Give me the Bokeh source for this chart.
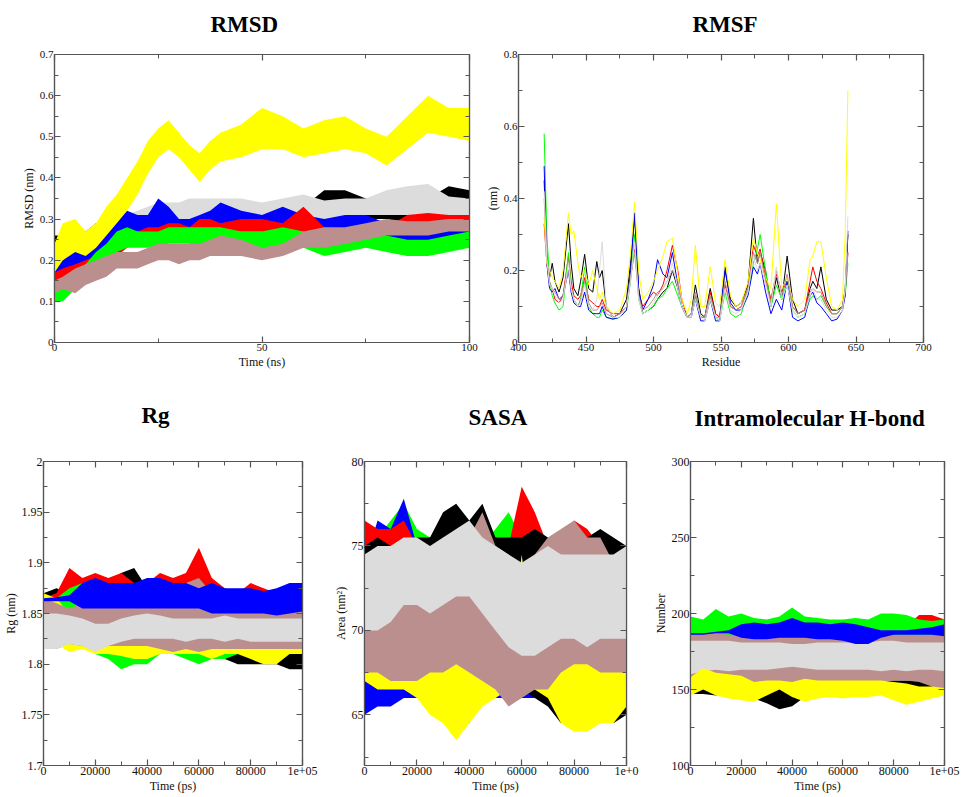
from bokeh.plotting import figure
from bokeh.layouts import row, column
from bokeh.models import FixedTicker, LinearAxis, Title, CustomJSTickFormatter, Range1d
from bokeh.embed import file_html
from bokeh.resources import INLINE

BLACK = "#000000"; RED = "#ff0000"; GREEN = "#00ff00"; BLUE = "#0000ff"
YELLOW = "#ffff00"; BROWN = "#bc8f8f"; GREY = "#dcdcdc"
AXC = "#555555"
SERIF = "Liberation Serif"

# ---------------- RMSD (ns, nm) : band envelopes
rmsd_t = [0, 2, 5, 7.5, 10, 12.5, 15, 17.5, 20, 22.5, 25, 27.5, 30, 32.5, 35, 37.5, 40,
          45, 50, 55, 60, 65, 70, 75, 80, 85, 90, 95, 100]
rmsd_black_lo = [.19, .21, .22, .23, .25, .26, .27, .27, .27, .27, .27, .27, .27, .27, .27, .27, .27, .28, .28, .28, .29, .30, .31, .30, .30, .29, .30, .32, .32]
rmsd_black_hi = [.26, .26, .28, .27, .29, .30, .30, .30, .30, .31, .31, .31, .31, .31, .31, .31, .31, .31, .31, .32, .33, .37, .37, .35, .34, .33, .35, .38, .37]
rmsd_grey_lo = [.15, .17, .18, .20, .22, .23, .24, .25, .26, .27, .28, .29, .29, .30, .30, .30, .30, .30, .29, .29, .30, .30, .30, .31, .31, .31, .31, .31, .30]
rmsd_grey_hi = [.22, .24, .26, .27, .29, .30, .30, .31, .32, .33, .34, .34, .34, .35, .35, .35, .35, .35, .34, .35, .36, .345, .35, .35, .37, .38, .385, .355, .35]
rmsd_blue_lo = [.15, .15, .17, .19, .20, .21, .23, .26, .27, .27, .27, .26, .25, .25, .25, .26, .27, .27, .27, .27, .27, .26, .27, .27, .23, .22, .22, .23, .23]
rmsd_blue_hi = [.20, .20, .23, .24, .25, .27, .30, .32, .31, .31, .35, .33, .30, .30, .31, .32, .34, .32, .31, .33, .31, .30, .31, .31, .29, .28, .27, .28, .28]
rmsd_red_lo = [.14, .15, .16, .17, .18, .19, .21, .23, .24, .26, .27, .27, .27, .27, .27, .27, .27, .27, .27, .26, .27, .27, .27, .27, .27, .28, .28, .28, .28]
rmsd_red_hi = [.17, .18, .19, .20, .21, .22, .24, .26, .27, .28, .28, .29, .29, .28, .30, .30, .29, .30, .30, .29, .33, .28, .275, .28, .28, .31, .315, .31, .31]
rmsd_green_lo = [.10, .10, .13, .15, .17, .19, .22, .23, .23, .23, .23, .24, .24, .24, .23, .23, .23, .23, .22, .23, .23, .21, .22, .23, .22, .21, .21, .22, .23]
rmsd_green_hi = [.14, .14, .17, .19, .22, .24, .27, .28, .27, .27, .27, .28, .28, .28, .28, .28, .28, .27, .27, .28, .27, .25, .25, .27, .26, .25, .25, .26, .27]
rmsd_brown_lo = [.12, .13, .12, .14, .15, .16, .18, .18, .18, .19, .20, .20, .19, .20, .20, .21, .21, .21, .20, .21, .23, .23, .24, .25, .26, .26, .26, .27, .27]
rmsd_brown_hi = [.15, .16, .18, .19, .20, .21, .22, .22, .22, .23, .24, .24, .24, .24, .24, .25, .26, .25, .23, .24, .27, .28, .28, .29, .30, .295, .295, .30, .30]
rmsd_yellow_lo = [.17, .20, .22, .21, .23, .26, .29, .32, .36, .41, .45, .47, .45, .42, .39, .42, .44, .45, .47, .47, .45, .46, .47, .46, .43, .47, .51, .50, .49]
rmsd_yellow_hi = [.24, .29, .30, .27, .29, .33, .36, .40, .44, .49, .52, .54, .51, .48, .46, .49, .51, .53, .57, .55, .52, .54, .55, .52, .50, .55, .60, .57, .57]

# ---------------- RMSF (residue, nm)
rmsf_res = [419, 421, 423, 425, 427, 430, 433, 437, 439, 441, 444, 446, 449, 452, 455, 458, 460, 462, 465, 470,
            475, 480, 483, 486, 489, 492, 496, 500, 503, 507, 510, 514, 518, 521, 525, 528, 531, 535, 538, 542,
            546, 549, 553, 557, 561, 565, 570, 574, 577, 579, 583, 587, 591, 595, 599, 603, 607, 612, 616, 618,
            621, 624, 628, 632, 636, 640, 642, 644]
rmsf_black = [.45, .25, .18, .22, .17, .14, .18, .33, .22, .15, .13, .17, .245, .15, .14, .225, .18, .20, .10, .07,
              .08, .12, .22, .35, .15, .08, .09, .10, .12, .14, .15, .20, .15, .10, .07, .08, .16, .08, .07, .15,
              .08, .07, .20, .12, .10, .11, .16, .345, .22, .25, .20, .10, .18, .12, .24, .12, .08, .09, .15, .17,
              .15, .21, .12, .09, .09, .10, .15, .30]
rmsf_red = [.33, .22, .16, .15, .12, .11, .13, .24, .17, .13, .12, .13, .18, .12, .11, .10, .10, .12, .09, .08,
            .08, .10, .18, .26, .14, .10, .12, .14, .13, .16, .20, .27, .20, .12, .07, .08, .13, .07, .07, .14,
            .08, .07, .16, .10, .09, .10, .15, .27, .24, .26, .18, .12, .19, .14, .17, .10, .08, .09, .17, .21,
            .17, .15, .11, .08, .08, .10, .14, .25]
rmsf_green = [.58, .30, .17, .13, .11, .09, .10, .25, .15, .12, .10, .12, .21, .10, .08, .07, .07, .09, .07, .065,
              .07, .09, .17, .30, .12, .08, .09, .10, .12, .13, .15, .17, .13, .10, .07, .08, .13, .07, .07, .13,
              .07, .06, .14, .08, .07, .08, .14, .22, .26, .30, .20, .10, .16, .12, .17, .09, .07, .08, .12, .13,
              .12, .13, .10, .08, .08, .10, .13, .22]
rmsf_blue = [.49, .22, .15, .14, .15, .12, .13, .20, .14, .11, .10, .10, .14, .09, .08, .08, .08, .10, .07, .065,
             .07, .09, .20, .36, .15, .09, .12, .16, .23, .19, .18, .25, .16, .10, .07, .07, .12, .06, .06, .12,
             .06, .06, .21, .11, .09, .09, .13, .21, .19, .22, .14, .08, .12, .09, .17, .07, .06, .07, .13, .14,
             .11, .10, .08, .06, .065, .09, .13, .31]
rmsf_yellow = [.35, .22, .20, .18, .17, .15, .20, .36, .30, .31, .22, .18, .20, .16, .20, .15, .12, .14, .10, .08,
               .09, .15, .25, .39, .20, .12, .14, .17, .20, .24, .28, .29, .19, .12, .08, .12, .27, .10, .10, .21,
               .11, .10, .23, .13, .10, .11, .17, .29, .25, .23, .18, .15, .385, .15, .18, .12, .10, .12, .23, .24,
               .28, .28, .18, .10, .09, .12, .30, .70]
rmsf_brown = [.40, .24, .17, .15, .14, .12, .13, .20, .15, .12, .10, .12, .17, .11, .09, .09, .10, .11, .08, .07,
              .08, .10, .18, .25, .13, .09, .10, .12, .14, .15, .17, .20, .17, .10, .07, .08, .14, .07, .07, .13,
              .07, .07, .17, .10, .09, .10, .15, .25, .22, .25, .17, .11, .20, .13, .19, .10, .08, .09, .14, .15,
              .14, .14, .10, .08, .08, .10, .14, .25]
rmsf_grey = [.42, .23, .16, .15, .13, .11, .12, .22, .15, .12, .10, .11, .16, .10, .09, .12, .20, .28, .10, .07,
             .07, .10, .17, .28, .12, .08, .09, .11, .13, .15, .17, .22, .15, .10, .07, .07, .12, .07, .06, .12,
             .07, .06, .15, .09, .08, .09, .14, .24, .20, .22, .16, .10, .21, .12, .16, .09, .07, .08, .13, .15,
             .12, .12, .09, .07, .07, .09, .15, .35]

# ---------------- common time grid for Rg / SASA / H-bond (ps)
time_ps = [0, 5000, 10000, 15000, 20000, 25000, 30000, 35000, 40000, 45000, 50000,
           55000, 60000, 65000, 70000, 75000, 80000, 85000, 90000, 95000, 100000]

# Rg (nm)
rg_black_lo = [1.845, 1.85, 1.85, 1.85, 1.855, 1.855, 1.86, 1.86, 1.85, 1.84, 1.83, 1.82, 1.82, 1.81, 1.805, 1.80, 1.80, 1.80, 1.80, 1.795, 1.795]
rg_black_hi = [1.87, 1.875, 1.87, 1.87, 1.875, 1.88, 1.89, 1.895, 1.875, 1.86, 1.85, 1.84, 1.84, 1.83, 1.825, 1.82, 1.82, 1.82, 1.815, 1.815, 1.815]
rg_red_lo = [1.855, 1.855, 1.86, 1.86, 1.86, 1.86, 1.86, 1.86, 1.86, 1.86, 1.86, 1.865, 1.87, 1.86, 1.86, 1.86, 1.86, 1.86, 1.855, 1.855, 1.855]
rg_red_hi = [1.865, 1.87, 1.895, 1.885, 1.89, 1.885, 1.89, 1.88, 1.88, 1.89, 1.885, 1.89, 1.915, 1.885, 1.875, 1.87, 1.88, 1.875, 1.87, 1.87, 1.87]
rg_green_lo = [1.82, 1.815, 1.82, 1.82, 1.81, 1.805, 1.795, 1.80, 1.80, 1.81, 1.81, 1.805, 1.80, 1.805, 1.805, 1.81, 1.81, 1.81, 1.81, 1.81, 1.81]
rg_green_hi = [1.86, 1.865, 1.875, 1.88, 1.86, 1.85, 1.84, 1.84, 1.84, 1.84, 1.84, 1.84, 1.84, 1.84, 1.84, 1.84, 1.84, 1.84, 1.84, 1.84, 1.84]
rg_yellow_lo = [1.83, 1.82, 1.812, 1.815, 1.81, 1.81, 1.808, 1.805, 1.805, 1.81, 1.81, 1.81, 1.81, 1.805, 1.81, 1.81, 1.805, 1.80, 1.80, 1.81, 1.81]
rg_yellow_hi = [1.87, 1.865, 1.85, 1.85, 1.865, 1.86, 1.85, 1.85, 1.855, 1.86, 1.855, 1.85, 1.85, 1.85, 1.85, 1.85, 1.85, 1.85, 1.85, 1.85, 1.845]
rg_brown_lo = [1.825, 1.825, 1.82, 1.818, 1.815, 1.818, 1.818, 1.818, 1.818, 1.815, 1.812, 1.815, 1.812, 1.815, 1.815, 1.815, 1.815, 1.815, 1.815, 1.815, 1.815]
rg_brown_hi = [1.865, 1.86, 1.855, 1.86, 1.865, 1.87, 1.868, 1.86, 1.86, 1.87, 1.875, 1.88, 1.885, 1.87, 1.86, 1.86, 1.855, 1.86, 1.855, 1.855, 1.855]
rg_grey_lo = [1.815, 1.815, 1.82, 1.818, 1.812, 1.818, 1.822, 1.825, 1.825, 1.825, 1.825, 1.822, 1.825, 1.825, 1.822, 1.825, 1.822, 1.822, 1.822, 1.822, 1.822]
rg_grey_hi = [1.85, 1.85, 1.848, 1.845, 1.84, 1.84, 1.845, 1.848, 1.85, 1.848, 1.845, 1.845, 1.845, 1.845, 1.848, 1.845, 1.845, 1.845, 1.845, 1.845, 1.845]
rg_blue_lo = [1.862, 1.862, 1.862, 1.855, 1.855, 1.855, 1.855, 1.855, 1.855, 1.855, 1.855, 1.855, 1.855, 1.85, 1.85, 1.85, 1.85, 1.85, 1.848, 1.85, 1.852]
rg_blue_hi = [1.865, 1.866, 1.868, 1.88, 1.885, 1.88, 1.88, 1.88, 1.885, 1.885, 1.88, 1.88, 1.875, 1.88, 1.875, 1.875, 1.875, 1.872, 1.875, 1.88, 1.88]

# SASA (nm^2)
sasa_green_lo = [66.5, 66, 66, 66.5, 67, 67, 67, 67, 67, 67, 67, 66.5, 66, 66.5, 66, 66.5, 67, 67, 67, 67, 67]
sasa_green_hi = [75, 75.5, 76.5, 77.5, 76, 75.5, 75, 75, 75, 75, 76, 77, 75.5, 75, 75, 75, 75, 75, 75, 74.5, 75]
sasa_blue_lo = [65, 65.5, 65.5, 66, 66, 66, 65, 64, 64.5, 66, 66, 66, 66, 66, 66, 66, 66, 66, 66, 66, 66]
sasa_blue_hi = [74, 76.5, 76, 77.8, 75, 75.5, 75, 75, 75, 75, 74.5, 74.5, 74.5, 74.5, 74.5, 74.5, 74.5, 74.5, 74.5, 74.5, 74.5]
sasa_red_lo = [67, 67, 67, 67, 67, 67, 67, 67, 67, 67, 67, 67, 67, 67, 67, 67, 67, 67, 67, 67, 67]
sasa_red_hi = [76.5, 76, 76, 76.5, 75, 75.5, 76, 76.5, 75.5, 75.5, 75.5, 75, 78.5, 77, 75, 75.5, 76.5, 76, 75, 75, 75]
sasa_black_lo = [67.5, 67, 67, 67, 66.5, 66.5, 66, 64.5, 65.5, 66.5, 66.5, 66.5, 66.5, 66, 65.5, 64.5, 65, 66, 66, 64.5, 65]
sasa_black_hi = [75, 75.5, 75, 75, 75.5, 75.5, 77, 77.5, 76.5, 77.5, 75.5, 75.5, 75.5, 76, 75.5, 75, 76, 75.5, 76, 75.5, 75]
sasa_yellow_lo = [67, 66.5, 66.5, 66.5, 66, 65, 64.5, 63.5, 64.5, 65.5, 66, 66.5, 66.5, 66.5, 66, 64.5, 64, 64, 64.5, 64.5, 65.5]
sasa_yellow_hi = [69, 69.5, 69, 69.5, 70, 70, 70, 69.5, 69.5, 69, 68.5, 68, 74.5, 68.5, 69, 69.5, 70, 69.5, 70, 69, 69]
sasa_brown_lo = [67.5, 67.5, 67, 67, 67, 67.5, 67.5, 68, 67.5, 67, 66.5, 65.5, 66, 66.5, 66.5, 67.5, 68, 68, 67.5, 67.5, 67.5]
sasa_brown_hi = [74, 75, 75, 75.5, 75, 74.5, 75.5, 75.5, 75.5, 77, 75, 74.5, 73.5, 74.5, 75.5, 76, 76.5, 75.5, 75.5, 74, 75]
sasa_grey_lo = [70, 70, 70.5, 71.5, 71.5, 71, 71.5, 72, 72, 71, 70, 69, 68.5, 68.5, 69, 69.5, 69.5, 69, 69.5, 69.5, 69.5]
sasa_grey_hi = [74.5, 75, 75, 75.5, 75.5, 75, 75.5, 76, 76.5, 75.5, 75, 74.5, 74, 74.5, 75, 74.5, 74.5, 74.5, 74.5, 74.5, 75]

# Intramolecular H-bond (number)
hb_black_lo = [147, 147, 146, 147, 145, 144, 141, 137, 139, 145, 147, 148, 148, 148, 148, 148, 148, 148, 148, 148, 148]
hb_black_hi = [158, 158, 157, 156, 156, 155, 155, 155, 155, 156, 156, 156, 156, 156, 156, 156, 156, 156, 156, 156, 156]
hb_red_lo = [185, 185, 185, 185, 185, 185, 185, 185, 185, 185, 185, 185, 185, 185, 185, 185, 185, 185, 188, 188, 187]
hb_red_hi = [192, 192, 192, 192, 192, 192, 192, 192, 192, 192, 192, 192, 192, 192, 192, 192, 192, 192, 199, 199, 196]
hb_brown_lo = [148, 152, 155, 155, 156, 155, 153, 152, 152, 153, 152, 154, 154, 155, 155, 155, 156, 156, 155, 152, 147]
hb_brown_hi = [190, 190, 190, 190, 191, 192, 192, 192, 192, 192, 191, 191, 190, 190, 191, 191, 192, 191, 190, 190, 190]
hb_grey_lo = [160, 162, 163, 162, 163, 163, 163, 164, 165, 164, 163, 163, 163, 163, 163, 162, 163, 162, 163, 163, 162]
hb_grey_hi = [182, 182, 182, 182, 181, 181, 181, 181, 180, 180, 181, 181, 181, 181, 181, 182, 182, 181, 181, 181, 181]
hb_yellow_lo = [146, 150, 146, 144, 143, 142, 146, 150, 145, 142, 144, 145, 144, 145, 145, 146, 143, 140, 142, 144, 146]
hb_yellow_hi = [158, 164, 161, 160, 159, 155, 156, 156, 155, 157, 156, 156, 156, 156, 156, 156, 155, 154, 152, 152, 151]
hb_green_lo = [186, 187, 187, 186, 187, 188, 188, 188, 188, 188, 188, 188, 187, 187, 187, 186, 186, 186, 186, 186, 186]
hb_green_hi = [198, 196, 203, 198, 200, 197, 196, 198, 204, 198, 197, 196, 196, 197, 196, 200, 200, 199, 196, 195, 196]
hb_blue_lo = [186, 186, 187, 187, 184, 183, 183, 184, 184, 184, 183, 183, 182, 180, 180, 184, 186, 186, 186, 186, 185]
hb_blue_hi = [187, 187, 188, 189, 193, 194, 193, 194, 197, 194, 194, 193, 194, 193, 191, 189, 189, 189, 190, 191, 193]

# ticks
rmsd_xt, rmsd_xm = [0, 50, 100], [25, 75]
rmsd_yt = [0, 0.1, 0.2, 0.3, 0.4, 0.5, 0.6, 0.7]
rmsd_ym = [0.05, 0.15, 0.25, 0.35, 0.45, 0.55, 0.65]
rmsf_xt = [400, 450, 500, 550, 600, 650, 700]
rmsf_xm = [425, 475, 525, 575, 625, 675]
rmsf_yt, rmsf_ym = [0, 0.2, 0.4, 0.6, 0.8], [0.1, 0.3, 0.5, 0.7]
ps_xt = [0, 20000, 40000, 60000, 80000, 100000]
ps_xm = [10000, 30000, 50000, 70000, 90000]
rg_yt = [1.7, 1.75, 1.8, 1.85, 1.9, 1.95, 2.0]
rg_ym = [1.725, 1.775, 1.825, 1.875, 1.925, 1.975]
sasa_yt, sasa_ym = [65, 70, 75, 80], [62.5, 67.5, 72.5, 77.5]
hb_yt, hb_ym = [100, 150, 200, 250, 300], [125, 175, 225, 275]

num_fmt = "return String(Math.round(tick*1000)/1000);"
ps_fmt = "return tick >= 100000 ? '1e+05' : String(tick);"
ps_fmt_cut = "return tick >= 100000 ? '1e+0' : String(tick);"


def style_axis(ax, ticks, minor, tick_fs, lab_fs, fmt=None, label=None, hide=False):
    ax.ticker = FixedTicker(ticks=ticks, minor_ticks=minor)
    ax.major_tick_in = 6; ax.major_tick_out = 0
    ax.minor_tick_in = 4; ax.minor_tick_out = 0
    ax.axis_line_color = AXC; ax.major_tick_line_color = AXC; ax.minor_tick_line_color = AXC
    ax.axis_line_width = 1.2; ax.major_tick_line_width = 1.2; ax.minor_tick_line_width = 1
    ax.major_label_text_font = SERIF
    ax.major_label_text_color = "#111111"
    ax.axis_label_text_font = SERIF
    ax.axis_label_text_font_style = "normal"
    ax.axis_label_text_color = "#111111"
    ax.axis_label_text_font_size = lab_fs
    ax.major_label_standoff = 1
    ax.axis_label_standoff = 1
    if hide:
        ax.major_label_text_font_size = "0px"
        ax.major_label_standoff = 0
        ax.formatter = CustomJSTickFormatter(code="return '';")
    else:
        ax.major_label_text_font_size = tick_fs
        ax.formatter = CustomJSTickFormatter(code=fmt)
        ax.axis_label = label


def panel(w, h, xr, yr, borders, xt, xm, yt, ym, xfmt, yfmt, xlabel, ylabel, tick_fs, lab_fs,
          title, t_left, gap_fs):
    ml, mr, mt, mb = borders
    p = figure(width=w, height=h, x_range=Range1d(*xr), y_range=Range1d(*yr),
               output_backend="svg", toolbar_location=None,
               min_border_left=ml, min_border_right=mr, min_border_top=mt, min_border_bottom=mb)
    p.xgrid.visible = False
    p.ygrid.visible = False
    p.outline_line_color = AXC
    p.outline_line_width = 1.2
    style_axis(p.xaxis[0], xt, xm, tick_fs, lab_fs, xfmt, xlabel)
    style_axis(p.yaxis[0], yt, ym, tick_fs, lab_fs, yfmt, ylabel)
    top = LinearAxis()
    style_axis(top, xt, xm, tick_fs, lab_fs, hide=True)
    p.add_layout(top, "above")
    right = LinearAxis()
    style_axis(right, yt, ym, tick_fs, lab_fs, hide=True)
    p.add_layout(right, "right")
    if gap_fs:
        # blank spacer title between the frame and the real title
        p.add_layout(Title(text=" ", text_font_size=gap_fs, text_color="white"), "above")
    t = Title(text=title, align="left", offset=t_left, text_font=SERIF, text_font_style="bold",
              text_font_size="23px", text_color="#000000")
    p.add_layout(t, "above")
    return p


def bands(p, x, series):
    for color, lo, hi in series:
        p.varea(x=x, y1=lo, y2=hi, fill_color=color, fill_alpha=1.0)


# ---- RMSD
p1 = panel(480, 380, (0, 100), (0, 0.7), (54, 11, 52, 37), rmsd_xt, rmsd_xm, rmsd_yt, rmsd_ym,
           num_fmt, num_fmt, "Time (ns)", "RMSD (nm)", "11px", "12px", "RMSD", 156, "1px")
bands(p1, rmsd_t, [(BLACK, rmsd_black_lo, rmsd_black_hi), (GREY, rmsd_grey_lo, rmsd_grey_hi),
                   (BLUE, rmsd_blue_lo, rmsd_blue_hi), (RED, rmsd_red_lo, rmsd_red_hi),
                   (GREEN, rmsd_green_lo, rmsd_green_hi), (BROWN, rmsd_brown_lo, rmsd_brown_hi),
                   (YELLOW, rmsd_yellow_lo, rmsd_yellow_hi)])

# ---- RMSF
p2 = panel(480, 380, (400, 700), (0, 0.8), (38, 37, 54, 38), rmsf_xt, rmsf_xm, rmsf_yt, rmsf_ym,
           num_fmt, num_fmt, "Residue", "(nm)", "11px", "12px", "RMSF", 174, "1px")
for c, vals in [(BLACK, rmsf_black), (RED, rmsf_red), (GREEN, rmsf_green), (BLUE, rmsf_blue),
                (YELLOW, rmsf_yellow), (BROWN, rmsf_brown), (GREY, rmsf_grey)]:
    p2.line(rmsf_res, vals, line_color=c, line_width=1)

# ---- Rg
p3 = panel(330, 415, (0, 100000), (1.7, 2.0), (42, 28, 79, 30), ps_xt, ps_xm, rg_yt, rg_ym,
           ps_fmt, num_fmt, "Time (ps)", "Rg (nm)", "12px", "12px", "Rg", 98, "15px")
bands(p3, time_ps, [(BLACK, rg_black_lo, rg_black_hi), (RED, rg_red_lo, rg_red_hi),
                    (GREEN, rg_green_lo, rg_green_hi), (YELLOW, rg_yellow_lo, rg_yellow_hi),
                    (BROWN, rg_brown_lo, rg_brown_hi), (GREY, rg_grey_lo, rg_grey_hi),
                    (BLUE, rg_blue_lo, rg_blue_hi)])

# ---- SASA
p4 = panel(320, 415, (0, 100000), (62, 80), (31, 24, 77, 30), ps_xt, ps_xm, sasa_yt, sasa_ym,
           ps_fmt_cut, num_fmt, "Time (ps)", "Area (nm\u00b2)", "12px", "12px", "SASA", 104, "13px")
bands(p4, time_ps, [(GREEN, sasa_green_lo, sasa_green_hi), (BLUE, sasa_blue_lo, sasa_blue_hi),
                    (RED, sasa_red_lo, sasa_red_hi), (BLACK, sasa_black_lo, sasa_black_hi),
                    (YELLOW, sasa_yellow_lo, sasa_yellow_hi), (BROWN, sasa_brown_lo, sasa_brown_hi),
                    (GREY, sasa_grey_lo, sasa_grey_hi)])

# ---- H-bond
p5 = panel(310, 415, (0, 100000), (100, 300), (38, 16, 81, 30), ps_xt, ps_xm, hb_yt, hb_ym,
           ps_fmt, num_fmt, "Time (ps)", "Number", "12px", "12px", "Intramolecular H-bond", 4, "12px")
bands(p5, time_ps, [(BLACK, hb_black_lo, hb_black_hi), (RED, hb_red_lo, hb_red_hi),
                    (BROWN, hb_brown_lo, hb_brown_hi), (GREY, hb_grey_lo, hb_grey_hi),
                    (YELLOW, hb_yellow_lo, hb_yellow_hi), (GREEN, hb_green_lo, hb_green_hi),
                    (BLUE, hb_blue_lo, hb_blue_hi)])

layout = column(row(p1, p2), row(p3, p4, p5))
open("out.html", "w").write(file_html(layout, INLINE))
